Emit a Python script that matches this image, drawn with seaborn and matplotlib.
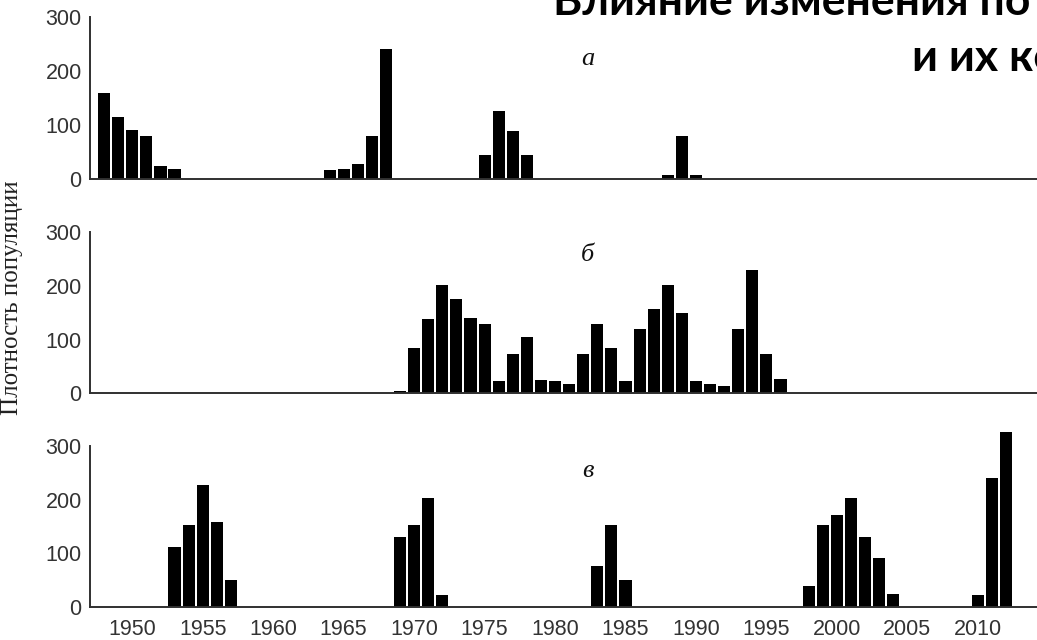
import matplotlib
matplotlib.use("Agg")
import matplotlib.pyplot as plt
import seaborn as sns
import pandas as pd

# Population density by year for three sites (а, б, в)
years_a = [1948, 1949, 1950, 1951, 1952, 1953,
           1964, 1965, 1966, 1967, 1968,
           1975, 1976, 1977, 1978,
           1988, 1989, 1990]
dens_a = [160, 114, 90, 80, 25, 19,
          16, 19, 28, 80, 241,
          45, 126, 88, 45,
          7, 80, 7]

years_b = list(range(1969, 1997))
dens_b = [5, 84, 138, 202, 176, 141, 130, 22, 73, 104, 25, 22, 17, 73,
          130, 84, 22, 119, 157, 202, 150, 22, 17, 14, 119, 229, 74, 26]

years_c = [1953, 1954, 1955, 1956, 1957,
           1969, 1970, 1971, 1972,
           1983, 1984, 1985,
           1998, 1999, 2000, 2001, 2002, 2003, 2004,
           2010, 2011, 2012]
dens_c = [111, 152, 228, 158, 50,
          130, 152, 202, 21,
          76, 152, 50,
          39, 152, 172, 202, 131, 91, 24,
          21, 240, 327]

panel_letters = ["а", "б", "в"]
letter_pos = [(1982.3, 222), (1982.3, 257), (1982.3, 253)]
x_ticks = list(range(1950, 2015, 5))
y_ticks = [0, 100, 200, 300]
y_label = "Плотность популяции"
title_line1 = "Влияние изменения по"
title_line2 = "и их ко"

sns.set_style("white")
plt.rcParams["font.family"] = ["Liberation Sans", "DejaVu Sans"]

fig = plt.figure(figsize=(10.37, 6.4), dpi=100)

left = 90 / 1037
width = 1.0 - left
boxes = [(179, 17), (393.3, 232.3), (606.7, 446)]
series = [(years_a, dens_a), (years_b, dens_b), (years_c, dens_c)]

serif = ["Liberation Serif", "DejaVu Serif"]

for i, ((ybot, ytop), (yrs, vals)) in enumerate(zip(boxes, series)):
    bottom = 1 - ybot / 640
    height = (ybot - ytop) / 640
    ax = fig.add_axes([left, bottom, width, height])
    df = pd.DataFrame({"year": yrs, "density": vals})
    sns.barplot(data=df, x="year", y="density", native_scale=True,
                color="black", saturation=1, width=0.86, linewidth=0,
                errorbar=None, ax=ax)
    for p in ax.patches:
        p.set_clip_on(False)
    ax.set_xlim(1947.0, 2014.2)
    ax.set_ylim(0, 300)
    ax.set_xticks(x_ticks)
    ax.set_yticks(y_ticks)
    ax.set_axisbelow(True)
    ax.set_xlabel("")
    ax.set_ylabel("")
    for side in ["top", "right"]:
        ax.spines[side].set_visible(False)
    for side in ["left", "bottom"]:
        ax.spines[side].set_color("#303030")
        ax.spines[side].set_linewidth(1.4)
    ax.tick_params(axis="x", direction="in", length=4, width=1.4,
                   color="#303030", labelsize=15.5, labelcolor="#333333", pad=9)
    ax.tick_params(axis="y", direction="in", length=3, width=1.2,
                   color="#303030", labelsize=15.5, labelcolor="#333333", pad=6)
    if i < 2:
        ax.tick_params(axis="x", labelbottom=False)
    lx, ly = letter_pos[i]
    ax.text(lx, ly, panel_letters[i], fontsize=19, style="italic",
            family=serif, color="#111111", ha="center", va="center")
    ax.patch.set_alpha(0)

fig.text(12 / 1037, 1 - 298 / 640, y_label, rotation=90,
         fontsize=18, family=serif, color="#222222",
         ha="center", va="center")

fig.text(553 / 1037, 1 - 15 / 640, title_line1, fontsize=32,
         fontweight="bold", family=["Lato", "DejaVu Sans"],
         color="black", ha="left", va="baseline")
fig.text(912 / 1037, 1 - 71 / 640, title_line2, fontsize=32,
         fontweight="bold", family=["Lato", "DejaVu Sans"],
         color="black", ha="left", va="baseline")

fig.savefig("out.png", dpi=100)
